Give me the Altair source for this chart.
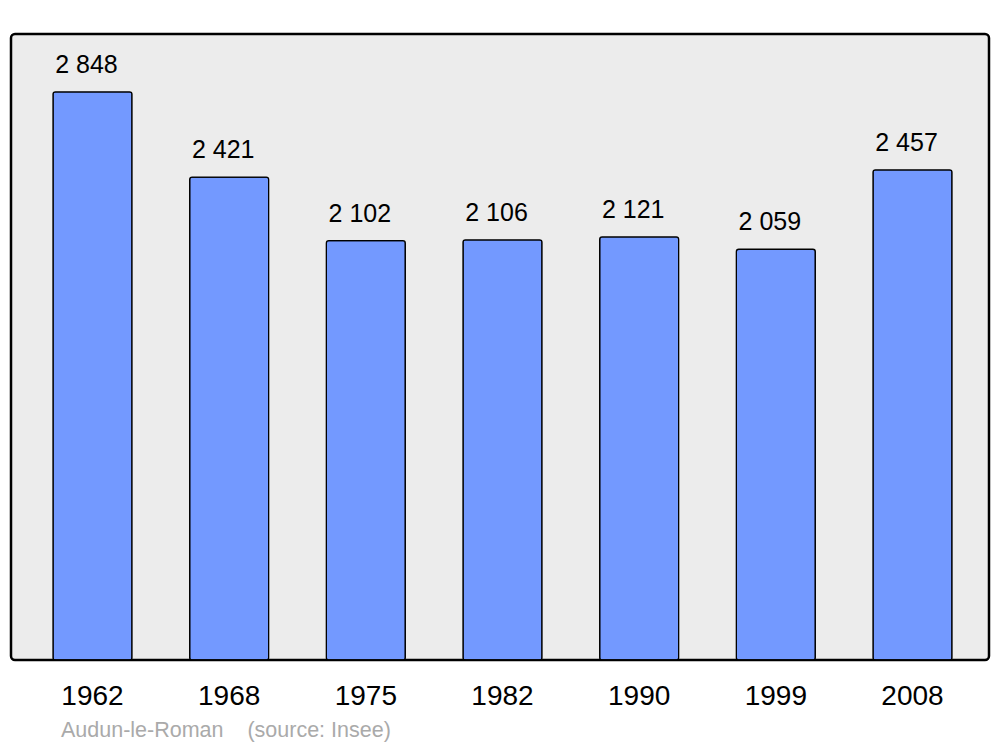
import altair as alt
import pandas as pd

years = ["1962", "1968", "1975", "1982", "1990", "1999", "2008"]
population = [2848, 2421, 2102, 2106, 2121, 2059, 2457]
labels = ["2 848", "2 421", "2 102", "2 106", "2 121", "2 059", "2 457"]

df = pd.DataFrame({"year": years, "pop": population, "label": labels})

FONT = "Liberation Sans"
NB = "\u00a0"

x = alt.X(
    "year:N",
    sort=years,
    scale=alt.Scale(range=[42, 941], paddingInner=0.422, paddingOuter=0),
    axis=alt.Axis(
        title=None,
        ticks=False,
        tickSize=0,
        domain=False,
        grid=False,
        labelAngle=0,
        labelFont=FONT,
        labelFontSize=28,
        labelColor="black",
        labelPadding=44,
        labelBaseline="alphabetic",
    ),
)
y = alt.Y(
    "pop:Q",
    scale=alt.Scale(domain=[0, 3138], nice=False, zero=True),
    axis=None,
)

bars = alt.Chart(df).mark_bar(
    color="#7399ff",
    stroke="black",
    strokeWidth=1.3,
    cornerRadius=2.5,
).encode(x=x, y=y)

text = alt.Chart(df).mark_text(
    font=FONT,
    fontSize=25,
    color="black",
    baseline="alphabetic",
    align="center",
    dy=-19,
    dx=-6,
).encode(x=x, y=y, text="label:N")

chart = (
    alt.layer(bars, text)
    .properties(
        width=978,
        height=626,
        background="white",
        autosize=alt.AutoSizeParams(type="none"),
        padding={"left": 3, "top": 26, "right": 3, "bottom": 85},
        title=alt.TitleParams(
            text="Audun-le-Roman" + NB * 4 + "(source: Insee)",
            orient="bottom",
            anchor="start",
            font=FONT,
            fontSize=21.5,
            fontWeight="normal",
            color="#aaaaaa",
            dx=50,
            offset=27,
            baseline="alphabetic",
        ),
    )
    .configure_view(
        fill="#ececec",
        stroke="black",
        strokeWidth=2.5,
        cornerRadius=4,
    )
)

chart.save("out.html", embed_options={"renderer": "svg", "actions": False})
